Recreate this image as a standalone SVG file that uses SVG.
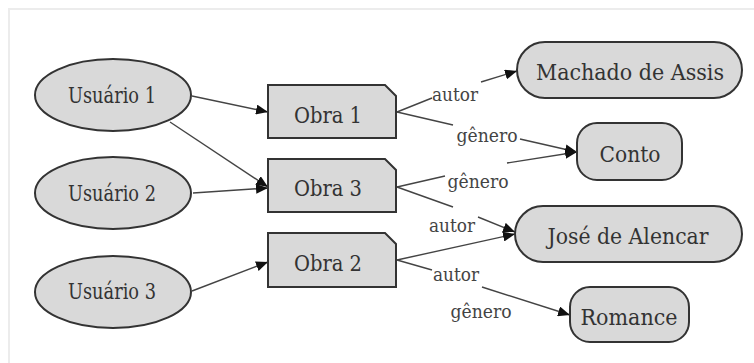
<svg xmlns="http://www.w3.org/2000/svg" width="754" height="363" viewBox="0 0 754 363">
  <style>
    .node { fill: #d9d9d9; stroke: #333; stroke-width: 2; }
    .label { font-family: 'DejaVu Serif Condensed', 'DejaVu Serif', serif; font-size: 22px; fill: #333; text-anchor: middle; }
    .elabel { font-family: 'DejaVu Serif Condensed', 'DejaVu Serif', serif; font-size: 19px; fill: #444; text-anchor: middle; }
    .edge { fill: none; stroke: #444; stroke-width: 1.4; }
    .frame { fill: none; stroke: #ececec; stroke-width: 2; }
  </style>
  <defs>
    <marker id="arrow" markerUnits="userSpaceOnUse" markerWidth="12" markerHeight="10" refX="12" refY="5" orient="auto">
      <path d="M0,0 L12,5 L0,10 Z" fill="#111"/>
    </marker>
  </defs>

  <rect width="754" height="363" fill="#fff"/>
  <rect class="frame" x="9" y="9" width="760" height="370"/>

  <!-- connectors -->
  <g id="edges">
    <path class="edge" d="M192,96 L268,112" marker-end="url(#arrow)"/>
    <path class="edge" d="M170,122 L268,187" marker-end="url(#arrow)"/>
    <path class="edge" d="M193,193 L268,188" marker-end="url(#arrow)"/>
    <path class="edge" d="M192,291 L268,262" marker-end="url(#arrow)"/>
    <!-- Obra 1 -> Machado de Assis -->
    <path class="edge" d="M397,112 L432,98"/>
    <path class="edge" d="M481,82 L517,71" marker-end="url(#arrow)"/>
    <!-- Obra 1 -> Conto -->
    <path class="edge" d="M397,112 L453,125"/>
    <path class="edge" d="M520,139 L577,152" marker-end="url(#arrow)"/>
    <!-- Obra 3 -> Conto -->
    <path class="edge" d="M397,187 L445,176"/>
    <path class="edge" d="M507,163 L577,152" marker-end="url(#arrow)"/>
    <!-- Obra 3 -> José de Alencar -->
    <path class="edge" d="M397,187 L453,207"/>
    <path class="edge" d="M478,217 L515,232" marker-end="url(#arrow)"/>
    <!-- Obra 2 -> José de Alencar -->
    <path class="edge" d="M397,260 L515,234" marker-end="url(#arrow)"/>
    <!-- Obra 2 -> Romance -->
    <path class="edge" d="M397,260 L432,270"/>
    <path class="edge" d="M482,287 L570,315" marker-end="url(#arrow)"/>

    <text class="elabel" x="455" y="101" textLength="46" lengthAdjust="spacingAndGlyphs">autor</text>
    <text class="elabel" x="487" y="142" textLength="61" lengthAdjust="spacingAndGlyphs">gênero</text>
    <text class="elabel" x="478" y="188" textLength="61" lengthAdjust="spacingAndGlyphs">gênero</text>
    <text class="elabel" x="452" y="232" textLength="46" lengthAdjust="spacingAndGlyphs">autor</text>
    <text class="elabel" x="456" y="281" textLength="46" lengthAdjust="spacingAndGlyphs">autor</text>
    <text class="elabel" x="481" y="318" textLength="61" lengthAdjust="spacingAndGlyphs">gênero</text>
  </g>

  <g id="usuario1">
    <ellipse class="node" cx="113" cy="95" rx="78" ry="36"/>
    <text class="label" x="112" y="103" textLength="88" lengthAdjust="spacingAndGlyphs">Usuário 1</text>
  </g>
  <g id="usuario2">
    <ellipse class="node" cx="113" cy="193" rx="78" ry="36"/>
    <text class="label" x="112" y="201" textLength="88" lengthAdjust="spacingAndGlyphs">Usuário 2</text>
  </g>
  <g id="usuario3">
    <ellipse class="node" cx="113" cy="292" rx="78" ry="36"/>
    <text class="label" x="112" y="299" textLength="88" lengthAdjust="spacingAndGlyphs">Usuário 3</text>
  </g>

  <g id="obra1">
    <path class="node" d="M268,85 H385 L396,96 V138 H268 Z"/>
    <text class="label" x="328" y="123" textLength="68" lengthAdjust="spacingAndGlyphs">Obra 1</text>
  </g>
  <g id="obra3">
    <path class="node" d="M268,159 H385 L396,170 V212 H268 Z"/>
    <text class="label" x="328" y="196" textLength="68" lengthAdjust="spacingAndGlyphs">Obra 3</text>
  </g>
  <g id="obra2">
    <path class="node" d="M268,233 H385 L396,244 V287 H268 Z"/>
    <text class="label" x="328" y="271" textLength="68" lengthAdjust="spacingAndGlyphs">Obra 2</text>
  </g>

  <g id="machado">
    <rect class="node" x="517" y="42" width="225" height="56" rx="28"/>
    <text class="label" x="630" y="80" textLength="188" lengthAdjust="spacingAndGlyphs">Machado de Assis</text>
  </g>
  <g id="conto">
    <rect class="node" x="577" y="123" width="105" height="57" rx="20"/>
    <text class="label" x="630" y="162" textLength="61" lengthAdjust="spacingAndGlyphs">Conto</text>
  </g>
  <g id="jose">
    <rect class="node" x="515" y="206" width="227" height="56" rx="28"/>
    <text class="label" x="628" y="244" textLength="161" lengthAdjust="spacingAndGlyphs">José de Alencar</text>
  </g>
  <g id="romance">
    <rect class="node" x="570" y="287" width="119" height="55" rx="20"/>
    <text class="label" x="629" y="325" textLength="97" lengthAdjust="spacingAndGlyphs">Romance</text>
  </g>
</svg>
